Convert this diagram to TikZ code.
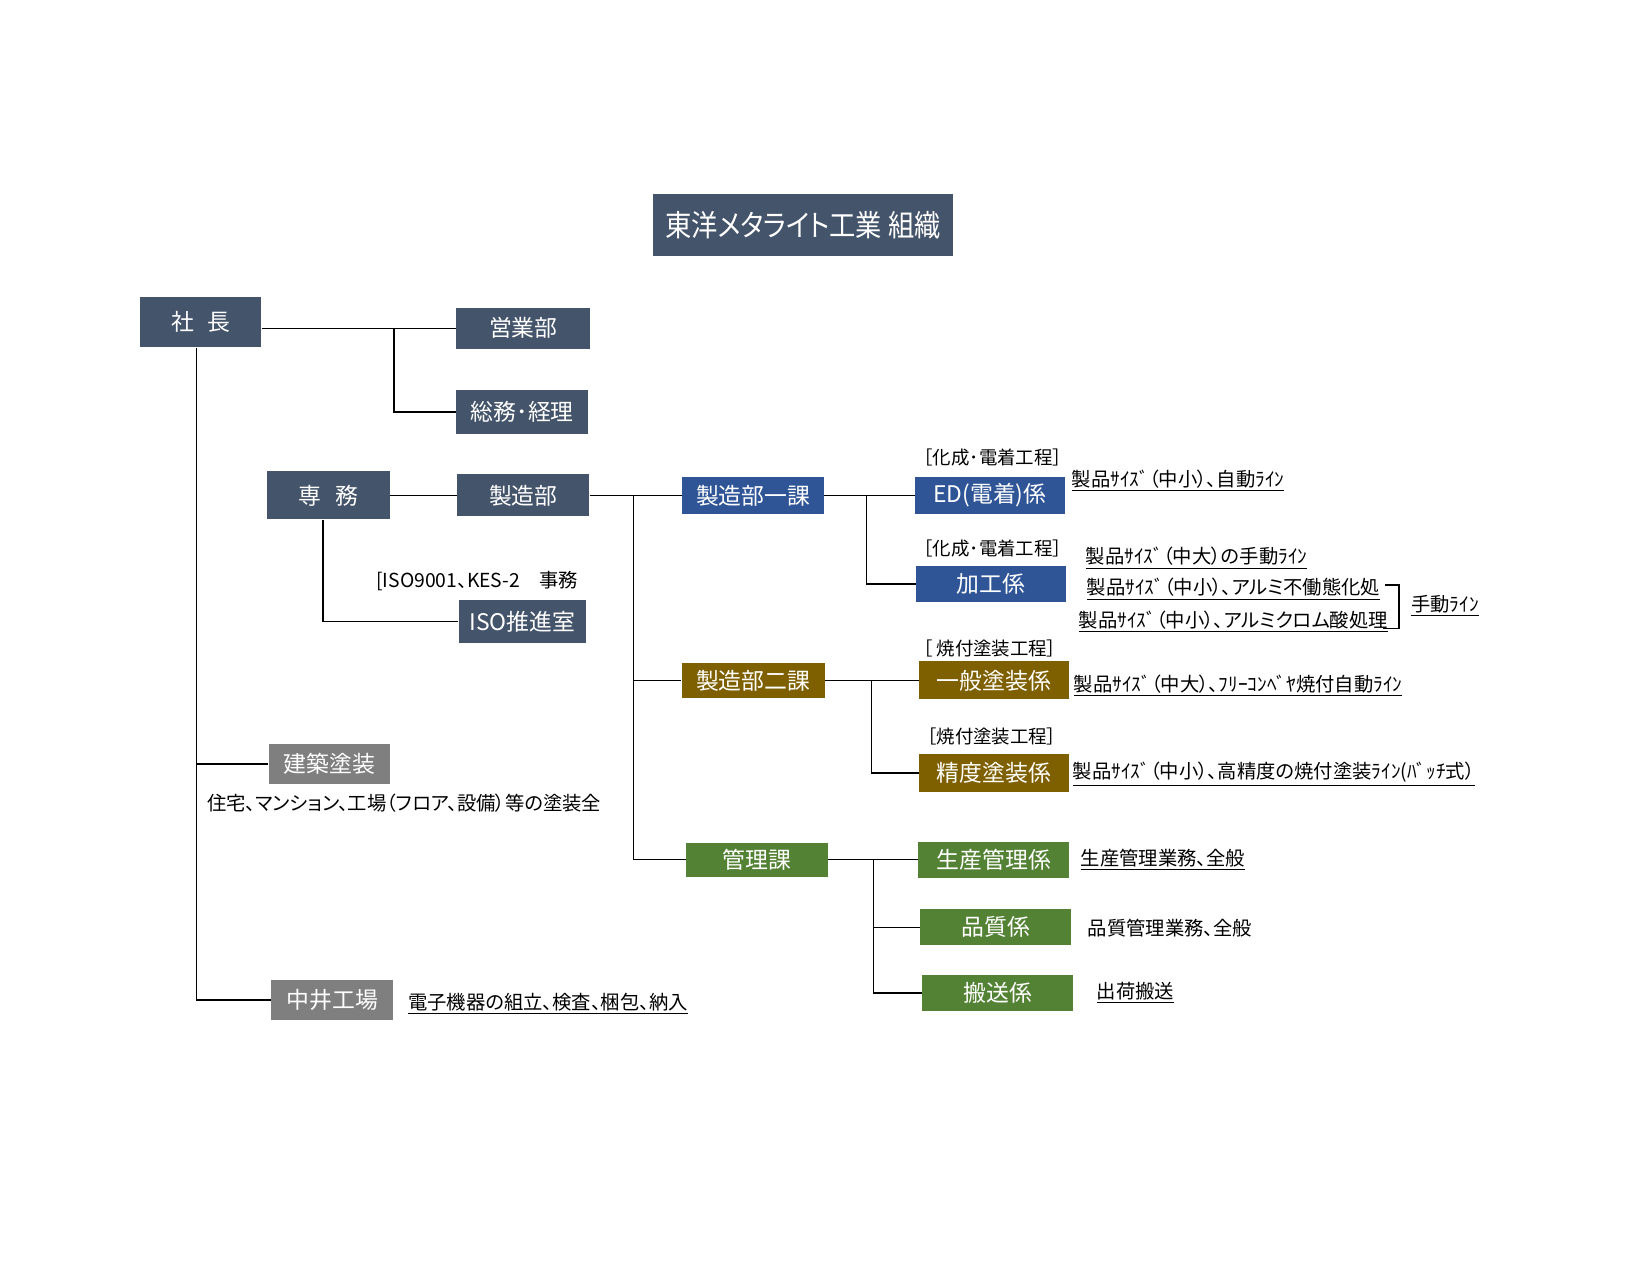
\documentclass[tikz,border=0pt]{standalone}
\usepackage{fontspec}
\setmainfont[RawFeature=+palt]{Noto Sans CJK JP}
\definecolor{slate}{HTML}{44546A}
\definecolor{ablue}{HTML}{2F5597}
\definecolor{abrown}{HTML}{7F6000}
\definecolor{agreen}{HTML}{548235}
\definecolor{agray}{HTML}{7F7F7F}
\tikzset{
    box/.style={fill=slate, text=white, inner sep=0pt, font=\fontsize{13}{15}\selectfont},
    bluebox/.style={box, fill=ablue, minimum width=3cm, minimum height=0.73cm},
    brownbox/.style={box, fill=abrown, minimum width=3cm, minimum height=0.76cm},
    greenbox/.style={box, fill=agreen, minimum width=3.02cm, minimum height=0.72cm},
    graybox/.style={box, fill=agray, minimum width=2.42cm, minimum height=0.8cm},
    note/.style={inner sep=0pt, anchor=west, font=\fontsize{11}{13}\selectfont},
    koutei/.style={inner sep=0pt, font=\fontsize{10.5}{12}\selectfont},
    line/.style={line width=0.8pt}
}

\begin{document}
\begin{tikzpicture}[x=0.0199cm, y=-0.0199cm]
    \useasboundingbox[fill=white] (0cm,0cm) rectangle (33cm,-25.5cm);

    \node[box, minimum width=6cm, minimum height=1.24cm, font=\fontsize{17}{19}\selectfont] (title) at (807,226) {\scalebox{0.88}[1]{東洋メタライト工業 組織}};

    \node[box, minimum width=2.42cm, minimum height=1cm] (shacho) at (202,324) {社\hspace{0.6em}長};
    \node[box, minimum width=2.68cm, minimum height=0.82cm] (eigyo) at (526,330) {営業部};
    \node[box, minimum width=2.64cm, minimum height=0.88cm] (somu) at (525,414) {総務･経理};
    \node[box, minimum width=2.46cm, minimum height=0.96cm] (senmu) at (330,498) {専\hspace{0.6em}務};
    \node[box, minimum width=2.64cm, minimum height=0.84cm] (seizo) at (526,498) {製造部};
    \node[box, minimum width=2.54cm, minimum height=0.86cm] (iso) at (525,625) {ISO推進室};

    \node[bluebox, minimum width=2.84cm] (ikka) at (757,498) {製造部一課};
    \node[brownbox, minimum width=2.86cm, minimum height=0.7cm] (nika) at (757,684) {製造部二課};
    \node[greenbox, minimum width=2.84cm, minimum height=0.68cm] (kanri) at (761,864) {管理課};

    \node[bluebox] (ed) at (995,498) {ED(電着)係};
    \node[bluebox] (kako) at (996,587) {加工係};
    \node[brownbox] (ippan) at (999,684) {一般塗装係};
    \node[brownbox] (seido) at (999,777) {精度塗装係};
    \node[greenbox] (seisan) at (999,864) {生産管理係};
    \node[greenbox] (hinshitsu) at (1001,932) {品質係};
    \node[greenbox] (hanso) at (1003,998) {搬送係};

    \node[graybox] (kenchiku) at (331,768) {建築塗装};
    \node[graybox, minimum width=2.44cm] (nakai) at (334,1005) {中井工場};

    \coordinate (j0) at ([xshift=-2.7pt]shacho.south);
    \coordinate (j1) at (396,330);
    \coordinate (j2) at (637,498);
    \coordinate (j3) at (871,498);
    \coordinate (j4) at (876,684);
    \coordinate (j5) at (878,864);

    \draw[line] (shacho.east |- eigyo) -- (eigyo.west);
    \draw[line] (j1) |- (somu.west);
    \draw[line] (j0) |- (nakai.west);
    \draw[line] (j0 |- kenchiku) -- (kenchiku.west);
    \draw[line] (senmu.east) -- (seizo.west);
    \draw[line] ([xshift=-3pt]senmu.south) |- (iso.west);
    \draw[line] (seizo.east) -- (ikka.west);
    \draw[line] (j2) |- (nika.west);
    \draw[line] (j2) |- (kanri.west);
    \draw[line] (ikka.east) -- (ed.west);
    \draw[line] (j3) |- (kako.west);
    \draw[line] (nika.east) -- (ippan.west);
    \draw[line] (j4) |- (seido.west);
    \draw[line] (kanri.east) -- (seisan.west);
    \draw[line] (j5) |- (hinshitsu.west);
    \draw[line] (j5) |- (hanso.west);

    \node[koutei] (k1) at (998,460) {［化成･電着工程］};
    \node[koutei] (k2) at (998,551) {［化成･電着工程］};
    \node[koutei] (k3) at (995,652) {［ 焼付塗装工程］};
    \node[koutei] (k4) at (997,740) {［焼付塗装工程］};
    \node[note] (isonote) at (378,584) {[ISO9001、KES-2　事務};

    \node[note] (n_ed) at (1077,483) {\underline{製品ｻｲｽﾞ（中小）、自動ﾗｲﾝ}};
    \node[note] (n_k1) at (1091,561) {\underline{製品ｻｲｽﾞ（中大）の手動ﾗｲﾝ}};
    \node[note] (n_k2) at (1092,592) {\underline{製品ｻｲｽﾞ（中小）、アルミ不働態化処}};
    \node[note] (n_k3) at (1084,625) {\underline{製品ｻｲｽﾞ（中小）、アルミクロム酸処理}};
    \node[note] (n_hand) at (1418,609) {\underline{手動ﾗｲﾝ}};
    \node[note] (n_ip) at (1079,689) {\underline{製品ｻｲｽﾞ（中大）、ﾌﾘｰｺﾝﾍﾞﾔ焼付自動ﾗｲﾝ}};
    \node[note] (n_sd) at (1078,778) {\underline{製品ｻｲｽﾞ（中小）、高精度の焼付塗装ﾗｲﾝ(ﾊﾞｯﾁ式）}};
    \node[note] (n_ss) at (1086,864) {\underline{生産管理業務、全般}};
    \node[note] (n_hs) at (1093,933) {品質管理業務、全般};
    \node[note] (n_hn) at (1102,998) {\underline{出荷搬送}};
    \node[note] (n_kc) at (208,807) {住宅、マンション、工場（フロア、設備）等の塗装全};
    \node[note] (n_nk) at (410,1009) {\underline{電子機器の組立、検査、梱包、納入}};

    \draw[line] (1392,588) -| (1406,632) -- (1390,632);
\end{tikzpicture}
\end{document}
